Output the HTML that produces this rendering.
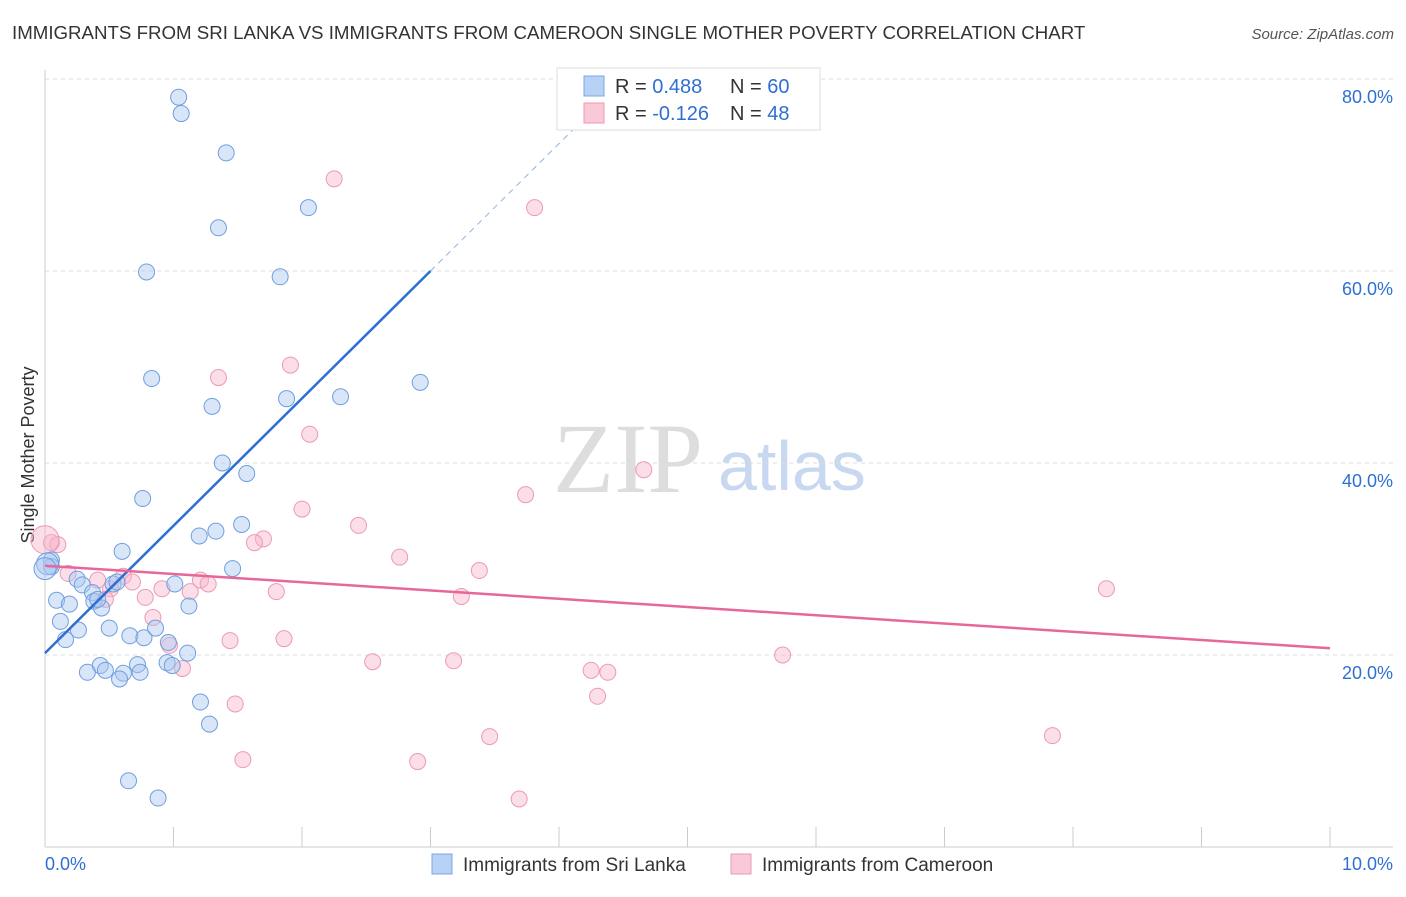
<!DOCTYPE html>
<html><head><meta charset="utf-8">
<style>
body{margin:0;background:#fff;font-family:"Liberation Sans",sans-serif;}
svg text{font-family:"Liberation Sans",sans-serif;}
</style></head>
<body>
<svg id="chart" width="1406" height="892">
<text x="12" y="39" font-size="18.7" fill="#333">IMMIGRANTS FROM SRI LANKA VS IMMIGRANTS FROM CAMEROON SINGLE MOTHER POVERTY CORRELATION CHART</text>
<text x="1394" y="39" font-size="15" fill="#555" font-style="italic" text-anchor="end">Source: ZipAtlas.com</text>
<text x="34" y="455" font-size="18" fill="#333" transform="rotate(-90 34 455)" text-anchor="middle">Single Mother Poverty</text>
<text x="553" y="492" font-size="100" fill="#ddd" style="font-family:'Liberation Serif',serif">ZIP</text>
<text x="718" y="490" font-size="70" fill="#c8d8f0">atlas</text>
<g id="grid"></g><g id="pts"></g><g id="lines"></g>
<g>
<rect x="557" y="68" width="263" height="62" fill="#fff" stroke="#ddd"/>
<rect x="584" y="76" width="20" height="20" fill="#b7d2f5" stroke="#7aa7e3"/>
<rect x="584" y="103" width="20" height="20" fill="#f9c9d8" stroke="#ec9ab5"/>
<text x="615" y="93" font-size="20" fill="#333">R = <tspan fill="#2f6fd3">0.488</tspan></text>
<text x="730" y="93" font-size="20" fill="#333">N = <tspan fill="#2f6fd3">60</tspan></text>
<text x="615" y="120" font-size="20" fill="#333">R = <tspan fill="#2f6fd3">-0.126</tspan></text>
<text x="730" y="120" font-size="20" fill="#333">N = <tspan fill="#2f6fd3">48</tspan></text>
</g>
<g>
<rect x="432" y="854" width="20" height="20" fill="#b7d2f5" stroke="#7aa7e3"/>
<text x="463" y="871" font-size="19" fill="#333">Immigrants from Sri Lanka</text>
<rect x="731" y="854" width="20" height="20" fill="#f9c9d8" stroke="#ec9ab5"/>
<text x="762" y="871" font-size="19" fill="#333">Immigrants from Cameroon</text>
</g>
<text x="45" y="870" font-size="18" fill="#2f6fd3">0.0%</text>
<text x="1393" y="870" font-size="18" fill="#2f6fd3" text-anchor="end">10.0%</text>
</svg>
<script>
const yTicks=[20,40,60,80];
const xTicks=[0,1,2,3,4,5,6,7,8,9,10];
const blueX=[1.04,1.06,1.41,2.05,1.35,0.79,1.83,0.83,2.92,1.30,1.88,2.30,1.38,1.57,0.76,1.53,1.33,1.20,0.60,0.05,0.05,1.46,0.25,0.29,0.53,1.01,0.37,0.09,0.19,0.38,0.44,1.12,0.12,0.26,0.50,0.16,0.66,0.77,0.86,0.96,1.11,0.95,0.99,0.43,0.33,0.47,0.61,0.72,0.74,0.58,1.21,1.28,0.65,0.88,0.56,0.41,0.02,0.0];
const blueY=[78.1,76.4,72.3,66.6,64.5,59.9,59.4,48.8,48.4,45.9,46.7,46.9,40.0,38.9,36.3,33.6,32.9,32.4,30.8,29.9,29.2,29.0,27.9,27.3,27.4,27.4,26.5,25.7,25.3,25.6,24.9,25.1,23.5,22.6,22.8,21.6,22.0,21.8,22.8,21.3,20.2,19.2,18.9,18.9,18.2,18.4,18.1,19.0,18.2,17.5,15.1,12.8,6.9,5.1,27.6,25.8,29.5,29.0];
const pinkX=[2.25,3.81,1.91,1.35,2.06,4.66,3.74,2.00,2.44,1.70,1.63,0.05,0.10,2.76,3.38,0.18,0.61,0.41,0.68,0.51,1.21,1.27,1.80,0.91,1.13,0.78,0.47,3.24,8.26,0.84,0.97,1.44,1.86,1.07,2.55,3.18,5.74,4.25,4.38,4.30,1.48,3.46,7.84,1.54,2.90,3.69,0.0];
const pinkY=[69.6,66.6,50.2,48.9,43.0,39.3,36.7,35.2,33.5,32.1,31.7,31.7,31.5,30.2,28.8,28.5,28.2,27.8,27.6,26.9,27.8,27.4,26.6,26.9,26.6,26.0,25.8,26.1,26.9,23.9,21.0,21.5,21.7,18.6,19.3,19.4,20.0,18.4,18.2,15.7,14.9,11.5,11.6,9.1,8.9,5.0,32.0];
const blueFit=[20.2,60.0], pinkFit=[29.3,20.7];
const NS="http://www.w3.org/2000/svg";
const X=v=>45+v*128.5, Y=v=>847-v*9.6;
function mk(t,a,p){const e=document.createElementNS(NS,t);for(const k in a)e.setAttribute(k,a[k]);p.appendChild(e);return e;}
const g=document.getElementById('grid');
mk('line',{x1:45,y1:70,x2:45,y2:847,stroke:'#ccc'},g);
mk('line',{x1:45,y1:847,x2:1393,y2:847,stroke:'#ccc'},g);
yTicks.forEach(t=>{const l=mk('line',{x1:45,y1:Y(t),x2:1393,y2:Y(t),stroke:'#ddd','stroke-dasharray':'4,4'},g);


const tx=mk('text',{x:1393,y:Y(t)+24,'font-size':18,fill:'#2f6fd3','text-anchor':'end'},g);tx.textContent=t.toFixed(1)+'%';

});
xTicks.forEach(t=>{const l=mk('line',{x1:X(t),y1:827,x2:X(t),y2:847,stroke:'#ccc'},g);

});
const p=document.getElementById('pts');
pinkX.forEach((v,i)=>{const c=mk('circle',{cx:X(v),cy:Y(pinkY[i]),r:i==pinkX.length-1?14:8,fill:'rgba(246,182,203,0.45)',stroke:'#ec9ab5','stroke-width':1},p);

});
blueX.forEach((v,i)=>{const c=mk('circle',{cx:X(v),cy:Y(blueY[i]),r:i>=blueX.length-2?11:8,fill:'rgba(170,200,240,0.45)',stroke:'#6e9fe0','stroke-width':1},p);

});
const L=document.getElementById('lines');
const bs=(blueFit[1]-blueFit[0])/3;
let e=mk('line',{x1:X(0),y1:Y(blueFit[0]),x2:X(3),y2:Y(blueFit[1]),stroke:'#2f6fd3','stroke-width':2.5},L);


e=mk('line',{x1:X(3),y1:Y(blueFit[1]),x2:X(4.2),y2:Y(blueFit[0]+bs*4.2),stroke:'#8fb3e8','stroke-width':1,'stroke-dasharray':'6,5'},L);


e=mk('line',{x1:X(0),y1:Y(pinkFit[0]),x2:X(10),y2:Y(pinkFit[1]),stroke:'#e8679a','stroke-width':2.5},L);


</script>
</body></html>
